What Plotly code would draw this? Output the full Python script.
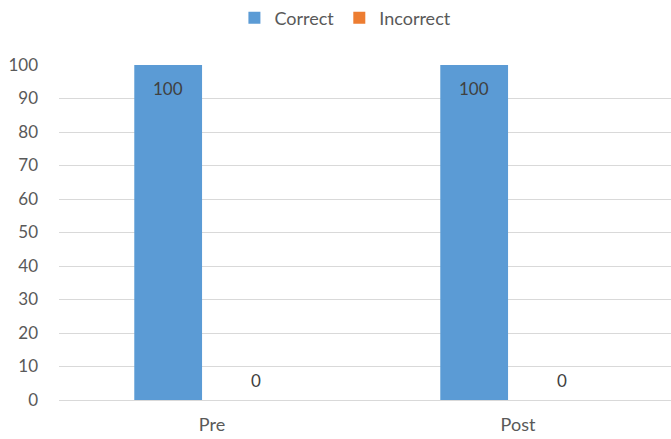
import plotly.graph_objects as go

categories = ["Pre", "Post"]
correct = [100, 100]
incorrect = [0, 0]
y_ticks = [0, 10, 20, 30, 40, 50, 60, 70, 80, 90, 100]

FONT = "Lato, 'Open Sans', sans-serif"
GRAY = "#595959"
FS = 18

fig = go.Figure()
fig.add_trace(go.Bar(name="Correct", x=categories, y=correct, marker_color="#5B9BD5",
                     marker_line_width=0, hoverinfo="skip"))
fig.add_trace(go.Bar(name="Incorrect", x=categories, y=incorrect, marker_color="#ED7D31",
                     marker_line_width=0, hoverinfo="skip"))

annotations = []
for c, v in zip(categories, correct):
    annotations.append(dict(x=c, y=v, xref="x", yref="y", text=str(v), showarrow=False,
                            xshift=-44, yshift=-11, yanchor="top",
                            font=dict(family=FONT, size=17, color="#404040")))
for c, v in zip(categories, incorrect):
    annotations.append(dict(x=c, y=v, xref="x", yref="y", text=str(v), showarrow=False,
                            xshift=44, yshift=7, yanchor="bottom",
                            font=dict(family=FONT, size=17, color="#404040")))

fig.update_layout(
    width=671, height=439,
    margin=dict(l=59, r=0, t=65, b=39, autoexpand=False),
    paper_bgcolor="white", plot_bgcolor="white",
    barmode="group", bargap=0.427, bargroupgap=0.227,
    font=dict(family=FONT, size=FS, color=GRAY),
    showlegend=True,
    legend=dict(orientation="h", x=0.468, xanchor="center", y=1.14, yanchor="middle",
                font=dict(family=FONT, size=FS, color=GRAY), itemwidth=30,
                traceorder="normal"),
    xaxis=dict(range=[-0.5, 1.5], showgrid=False, zeroline=False, showline=False,
               ticks="", ticklabelstandoff=12, automargin=False,
               tickfont=dict(family=FONT, size=18, color=GRAY)),
    yaxis=dict(range=[0, 100], tickvals=y_ticks, showgrid=True, gridcolor="#D9D9D9",
               gridwidth=1, zeroline=True, zerolinecolor="#D9D9D9", zerolinewidth=1,
               showline=False, ticks="", ticklabelstandoff=20, automargin=False,
               tickfont=dict(family=FONT, size=17, color=GRAY)),
    annotations=annotations,
)

fig.write_html("out.html", config={"displayModeBar": False},
               post_script="document.body.style.margin='0';")
